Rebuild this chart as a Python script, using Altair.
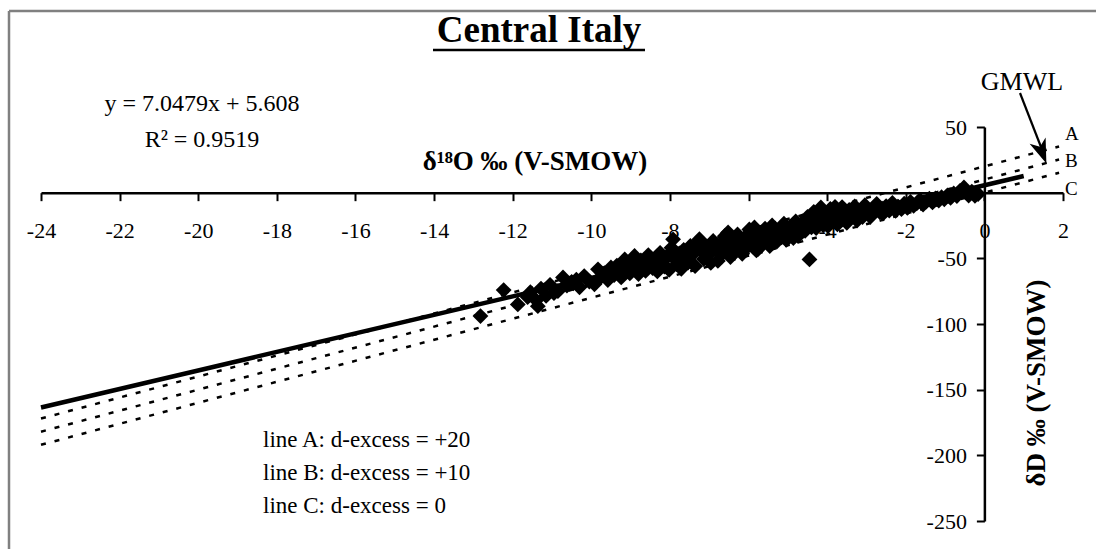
import altair as alt
import pandas as pd

# Sample isotope pairs, ‰ vs V-SMOW
d18O = [
    -12.82, -12.23, -11.87, -11.62, -11.55, -11.40, -11.36, -11.28, -11.15, -11.05,
    -10.95, -10.85, -10.72, -10.62, -10.50,
    -10.38, -10.30, -10.18, -10.05, -9.92, -9.83, -9.75, -9.66, -9.58, -9.50,
    -9.42, -9.35, -9.24, -9.15, -9.08, -9.02,
    -8.95, -8.90, -8.86, -8.80, -8.74, -8.68, -8.62, -8.55, -8.50, -8.44,
    -8.38, -8.32, -8.25, -8.20, -8.14, -8.08, -8.02,
    -7.96, -7.92, -7.88, -7.82, -7.76, -7.71, -7.65, -7.60, -7.54, -7.48,
    -7.42, -7.36, -7.30, -7.25, -7.20, -7.14, -7.08, -7.02,
    -6.96, -6.90, -6.85, -6.78, -6.72, -6.66, -6.60, -6.55, -6.52, -6.46,
    -6.40, -6.34, -6.28, -6.22, -6.16, -6.10, -6.04,
    -5.98, -5.92, -5.85, -5.80, -5.76, -5.70, -5.64, -5.58, -5.52, -5.46,
    -5.40, -5.34, -5.28, -5.22, -5.16, -5.10, -5.04,
    -4.98, -4.92, -4.86, -4.80, -4.74, -4.68, -4.62, -4.56, -4.50, -4.45,
    -4.40, -4.34, -4.28, -4.22, -4.16, -4.10, -4.04,
    -3.98, -3.92, -3.86, -3.80, -3.74, -3.68, -3.62, -3.56, -3.50, -3.44,
    -3.38, -3.30, -3.24, -3.16, -3.10, -3.04,
    -2.96, -2.90, -2.82, -2.74, -2.66, -2.58, -2.50, -2.42, -2.34, -2.26,
    -2.18, -2.11, -2.04,
    -1.96, -1.88, -1.80, -1.72, -1.64, -1.56, -1.48, -1.40, -1.32, -1.24,
    -1.16, -1.09, -1.02,
    -0.94, -0.86, -0.78, -0.70, -0.62, -0.52, -0.46, -0.40, -0.32, -0.24,
    -0.16,
    -10.46, -9.70, -9.28, -8.70, -8.36, -7.84, -7.40, -7.00, -6.64, -6.24,
    -5.88, -5.50, -5.12, -4.70, -4.30, -3.90, -3.46, -3.00, -2.60, -2.20,
]
dD = [
    -94.0, -74.2, -85.1, -79.5, -75.8, -82.0, -86.4, -73.0, -78.6, -70.2,
    -76.5, -75.0, -64.5, -70.8, -68.0,
    -66.2, -72.0, -63.5, -67.8, -69.8, -58.4, -64.0, -61.2, -66.5, -57.0,
    -62.8, -55.5, -64.5, -50.8, -58.6, -61.5,
    -53.2, -48.2, -57.0, -62.0, -51.5, -55.8, -59.6, -47.5, -53.8, -57.4,
    -50.2, -60.0, -45.8, -52.6, -56.2, -48.8, -58.8,
    -42.0, -35.5, -50.5, -54.6, -46.2, -58.0, -43.5, -49.8, -53.2, -40.6,
    -46.8, -56.0, -38.2, -35.4, -44.5, -50.6, -41.2, -47.6,
    -53.5, -36.8, -43.0, -52.0, -39.5, -46.2, -33.0, -41.8, -30.3, -49.0,
    -36.5, -44.2, -31.8, -39.0, -46.5, -34.2, -41.6,
    -28.0, -37.5, -26.5, -44.0, -43.0, -31.2, -38.6, -27.4, -34.8, -40.6,
    -25.0, -31.6, -37.2, -28.8, -34.0, -23.6, -36.0,
    -30.2, -26.0, -34.5, -21.8, -33.0, -27.6, -22.5, -29.0, -18.4, -50.8,
    -26.4, -14.6, -27.0, -20.2, -11.2, -24.8, -16.6,
    -25.5, -12.4, -20.6, -10.8, -24.2, -15.6, -11.0, -19.8, -23.0, -13.2,
    -17.6, -10.4, -21.2, -14.0, -18.6, -9.6,
    -15.8, -18.4, -11.4, -8.6, -14.8, -16.0, -10.2, -13.6, -7.8, -13.8,
    -11.0, -12.6, -8.4,
    -11.6, -7.0, -10.0, -8.2, -5.6, -9.0, -6.8, -4.6, -7.4, -4.4,
    -6.0, -3.4, -5.0,
    -2.0, -4.0, -0.6, -2.6, 1.4, 4.0, 0.4, -2.2, 0.8, -2.4,
    -1.0,
    -69.0, -61.6, -57.8, -53.0, -55.2, -47.0, -44.2, -45.0, -39.2, -37.6,
    -34.6, -32.8, -29.6, -28.6, -21.6, -18.0, -16.8, -13.0, -12.2, -10.6,
]

# Least-squares line through the samples
fit_slope = 7.0479
fit_intercept = 5.608
fit_r2 = 0.9519
fit_span = [-24, 1]

# Global meteoric water line δD = 8·δ18O + d for three d-excess values
gmwl_slope = 8
d_excess = {"A": 20, "B": 10, "C": 0}
gmwl_span = [-24, 1.9]

x_ticks = [-24, -22, -20, -18, -16, -14, -12, -10, -8, -6, -4, -2, 0, 2]
y_ticks = [50, -50, -100, -150, -200, -250]
x_domain = [-24, 2]
y_domain = [-250, 50]

W, H = 1022, 394
SERIF = "Liberation Serif"

points = pd.DataFrame({"d18O": d18O, "dD": dD})
fit = pd.DataFrame({
    "d18O": fit_span,
    "dD": [fit_slope * v + fit_intercept for v in fit_span],
})
gmwl = pd.DataFrame([
    {"line": name, "d18O": v, "dD": gmwl_slope * v + d}
    for name, d in d_excess.items()
    for v in gmwl_span
])

# Axes cross at the origin: shift them into the plot with negative offsets
x_zero_px = W * (0 - x_domain[0]) / (x_domain[1] - x_domain[0])
y_zero_px = H * (y_domain[1] - 0) / (y_domain[1] - y_domain[0])

axis_style = dict(
    title=None, grid=False,
    domainColor="black", domainWidth=2.5,
    tickColor="black", tickWidth=2, tickSize=8,
    labelFont=SERIF, labelFontSize=22, labelColor="black",
    labelOverlap=False, labelFlush=False,
    labelExpr="datum.value + ''",
)

x_enc = alt.X(
    "d18O:Q",
    scale=alt.Scale(domain=x_domain, nice=False, zero=False),
    axis=alt.Axis(orient="bottom", offset=-(H - y_zero_px), values=x_ticks,
                  labelPadding=20, **axis_style),
)
y_enc = alt.Y(
    "dD:Q",
    scale=alt.Scale(domain=y_domain, nice=False, zero=False),
    axis=alt.Axis(orient="left", offset=-x_zero_px, values=y_ticks,
                  labelPadding=10, **axis_style),
)

scatter = alt.Chart(points).mark_point(
    shape="diamond", filled=True, size=250, color="black", opacity=1, strokeWidth=0
).encode(x=x_enc, y=y_enc)

gmwl_lines = alt.Chart(gmwl).mark_line(
    color="black", strokeWidth=2.5, strokeDash=[5, 9], strokeCap="butt"
).encode(x=x_enc, y=y_enc, detail="line:N")

fit_line = alt.Chart(fit).mark_line(color="black", strokeWidth=4.5).encode(x=x_enc, y=y_enc)

one = pd.DataFrame({"k": [0]})


def label(text, x, y, size, weight="normal", align="center", angle=0, font=SERIF):
    mark = dict(text=text, font=font, fontSize=size, fontWeight=weight,
                align=align, baseline="alphabetic", color="black")
    if angle:
        mark["angle"] = angle
        mark["baseline"] = "middle"
    return alt.Chart(one).mark_text(**mark).encode(x=alt.value(x), y=alt.value(y))


title = label("Central Italy", 498, -85, 37, weight="bold")
underline = alt.Chart(one).mark_rule(color="black", strokeWidth=2.5).encode(
    x=alt.value(392), x2=alt.value(604), y=alt.value(-77))

eq = label(f"y = {fit_slope}x + {fit_intercept}", 161, -16, 24)
r2 = label(f"R² = {fit_r2}", 161, 20, 24)

x_title = label("δ¹⁸O ‰ (V-SMOW)", 494, 43, 27, weight="bold")
y_title = label("δD ‰ (V-SMOW)", 996, 256, 27, weight="bold", angle=270)

gmwl_text = label("GMWL", 981, -37, 26)
line_tags = [
    label(name, 1024, y, 19, align="left")
    for name, y in zip(d_excess, [13, 40, 68])
]
arrow_shaft = alt.Chart(one).mark_rule(color="black", strokeWidth=2.2).encode(
    x=alt.value(979), y=alt.value(-34), x2=alt.value(1000), y2=alt.value(20))
arrow_head = alt.Chart(one).mark_point(
    shape="M0,1L-0.7,-1L0,-0.45L0.7,-1Z", filled=True, size=600,
    color="black", opacity=1, strokeWidth=0, angle=339
).encode(x=alt.value(1001), y=alt.value(25))

legend_lines = [
    label(f"line {name}: d-excess = {('+' if d > 0 else '')}{d}", 222, y, 23, align="left")
    for (name, d), y in zip(d_excess.items(), [320, 353, 386])
]

frame_left = alt.Chart(one).mark_rule(color="#808080", strokeWidth=2.5).encode(
    x=alt.value(-32), y=alt.value(-116), y2=alt.value(430))
frame_top = alt.Chart(one).mark_rule(color="#808080", strokeWidth=2.5).encode(
    x=alt.value(-32), x2=alt.value(1060), y=alt.value(-116))

chart = alt.layer(
    frame_left, frame_top,
    scatter, gmwl_lines, fit_line,
    title, underline, eq, r2, x_title, y_title,
    gmwl_text, *line_tags, arrow_shaft, arrow_head, *legend_lines,
).properties(
    width=W, height=H,
    padding={"left": 41, "top": 127, "right": 33, "bottom": 28},
    autosize=alt.AutoSizeParams(type="none"),
    background="white",
).configure_view(stroke=None)

chart.save("out.html", embed_options={"renderer": "svg", "actions": False})
